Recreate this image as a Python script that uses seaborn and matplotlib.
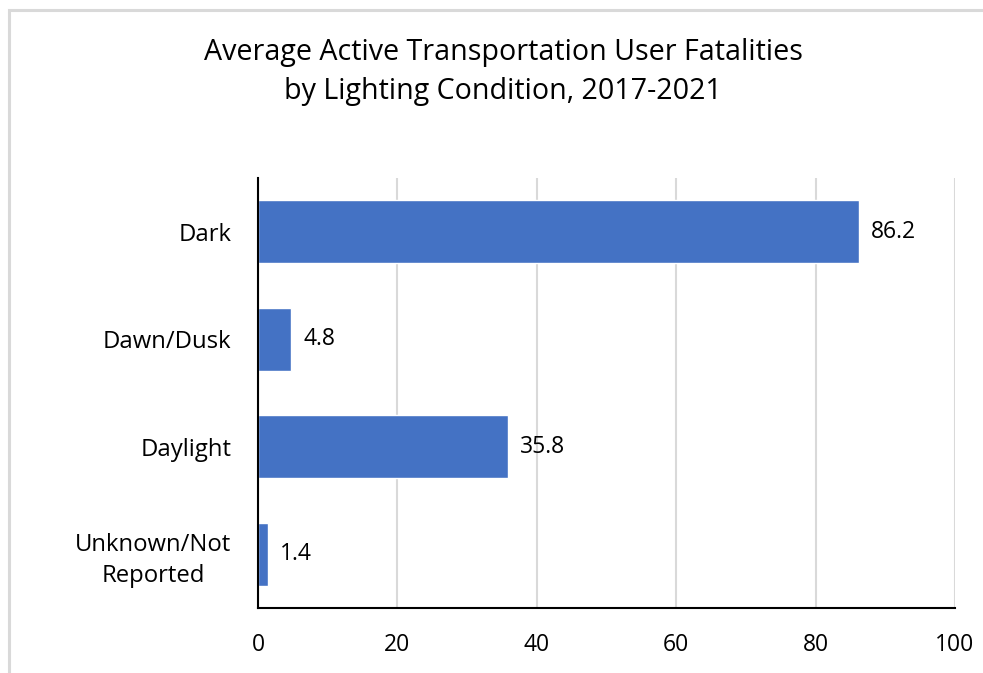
import matplotlib
matplotlib.use("Agg")
import matplotlib.pyplot as plt
import seaborn as sns
import pandas as pd
from matplotlib.patches import Rectangle

categories = ["Dark", "Dawn/Dusk", "Daylight", "Unknown/Not\nReported"]
values = [86.2, 4.8, 35.8, 1.4]
value_labels = ["86.2", "4.8", "35.8", "1.4"]
x_ticks = [0, 20, 40, 60, 80, 100]

sns.set_theme(style="white")
plt.rcParams["font.family"] = ["Open Sans", "DejaVu Sans"]

df = pd.DataFrame({"cat": categories, "val": values})

fig = plt.figure(figsize=(9.83, 6.73), dpi=100)
fig.patch.set_facecolor("white")
fig.patches.append(Rectangle((9 / 983, -0.1), 1.2, 1 - 10 / 673 + 0.1,
                             transform=fig.transFigure, fill=False,
                             edgecolor="#d9d9d9", linewidth=2.2, zorder=0))

ax = fig.add_axes([258 / 983, 1 - 608 / 673, 697 / 983, 430 / 673])
sns.barplot(data=df, y="cat", x="val", order=categories, color="#4472C4",
            saturation=1, width=0.59, ax=ax, orient="h")

ax.set_xlim(0, 100)
ax.set_xticks(x_ticks)
ax.set_xticklabels([str(t) for t in x_ticks])
ax.set_xlabel("")
ax.set_ylabel("")
ax.grid(axis="x", color="#d9d9d9", linewidth=1.5)
ax.set_axisbelow(True)
for s in ["top", "right"]:
    ax.spines[s].set_visible(False)
for s in ["left", "bottom"]:
    ax.spines[s].set_color("black")
    ax.spines[s].set_linewidth(1.5)
ax.spines["left"].set_zorder(3)
ax.tick_params(axis="both", length=0, labelsize=16.5, colors="black")
ax.tick_params(axis="x", pad=18)
ax.tick_params(axis="y", pad=19, labelsize=17.2)
for lbl in ax.get_yticklabels():
    lbl.set_multialignment("center")
    lbl.set_linespacing(1.4)

for i, (v, t) in enumerate(zip(values, value_labels)):
    ax.annotate(t, xy=(v, i), xytext=(9, 0), textcoords="offset points",
                va="center", ha="left", fontsize=16.5, color="black")

fig.text(503 / 983, 1 - 72 / 673,
         "Average Active Transportation User Fatalities\nby Lighting Condition, 2017-2021",
         ha="center", va="center", fontsize=20.6, color="black", linespacing=1.45)

fig.savefig("out.png", dpi=100)
